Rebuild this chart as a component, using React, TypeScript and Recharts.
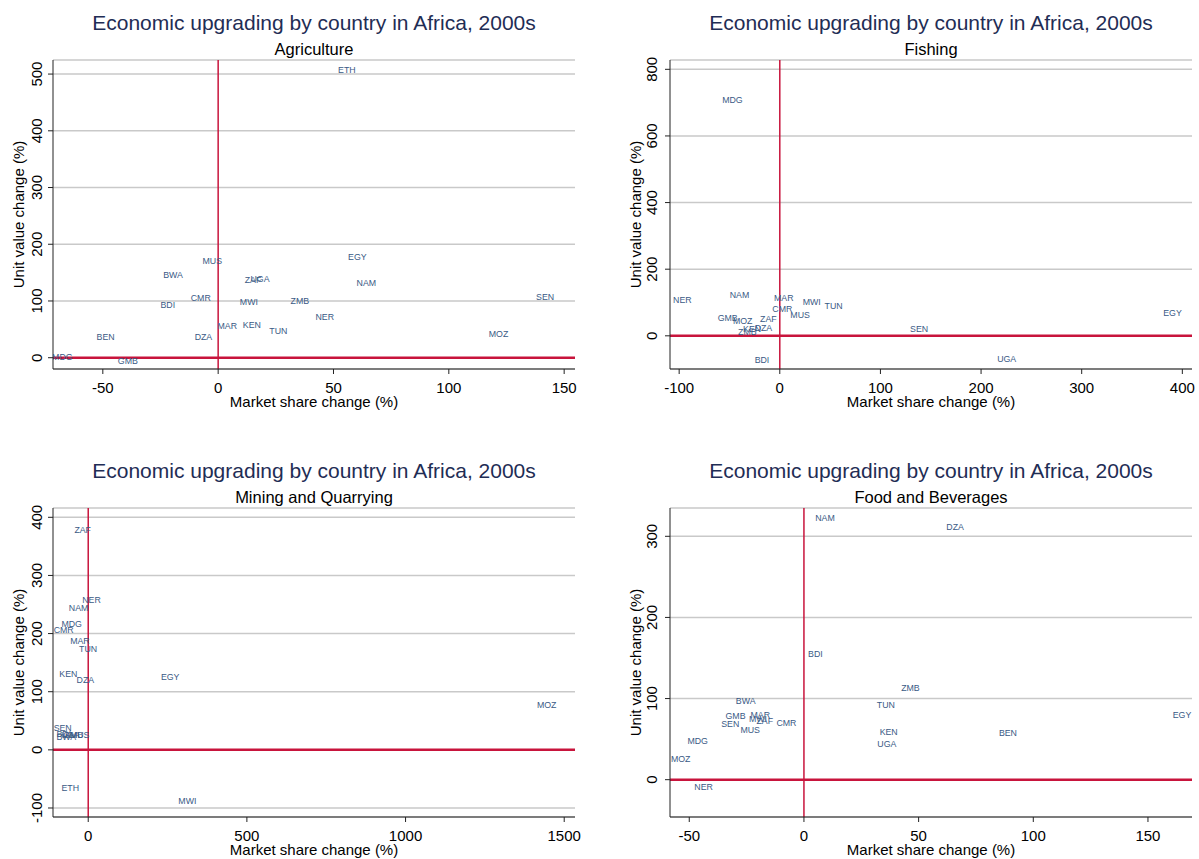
import React from 'react';
import { ScatterChart, Scatter, XAxis, YAxis, CartesianGrid, ReferenceLine } from 'recharts';

const FONT = '"Liberation Sans", Arial, Helvetica, sans-serif';
const MAIN_TITLE = 'Economic upgrading by country in Africa, 2000s';
const X_TITLE = 'Market share change (%)';
const Y_TITLE = 'Unit value change (%)';

// Agriculture
const agriCountries = ['ETH', 'MUS', 'EGY', 'BWA', 'ZAF', 'UGA', 'NAM', 'CMR', 'BDI', 'MWI', 'ZMB', 'SEN', 'NER', 'MAR', 'KEN', 'TUN', 'MOZ', 'BEN', 'DZA', 'MDG', 'GMB'];
const agriShare = [52, -6.8, 56.3, -23.8, 11.5, 14, 60, -11.9, -25, 9.4, 31.4, 137.8, 42.2, -0.3, 10.7, 22.2, 117.3, -52.7, -10.2, -72, -43.5];
const agriUnit = [508, 171, 178, 145, 137, 139, 131, 105.5, 93, 99, 100.5, 107.5, 72.3, 56, 58, 47.6, 42.4, 37, 37, 1.8, -5.6];
const agriXTicks = [-50, 0, 50, 100, 150];
const agriYTicks = [0, 100, 200, 300, 400, 500];

// Fishing
const fishCountries = ['MDG', 'NER', 'NAM', 'MAR', 'MWI', 'TUN', 'CMR', 'MUS', 'EGY', 'GMB', 'MOZ', 'ZAF', 'KEN', 'DZA', 'ZMB', 'SEN', 'BDI', 'UGA'];
const fishShare = [-57.3, -106, -49.7, -5.7, 22.8, 44.5, -7.4, 10.5, 381, -61.7, -46.6, -19.6, -36.5, -25, -41.5, 129.4, -25, 216];
const fishUnit = [708, 107, 123, 113, 101, 90, 81, 63, 69, 54, 44, 51, 21, 24, 10, 21, -74, -69];
const fishXTicks = [-100, 0, 100, 200, 300, 400];
const fishYTicks = [0, 200, 400, 600, 800];

// Mining and Quarrying
const mineCountries = ['ZAF', 'NER', 'NAM', 'MDG', 'CMR', 'MAR', 'TUN', 'KEN', 'DZA', 'EGY', 'MOZ', 'SEN', 'BDI', 'UGA', 'GMB', 'MUS', 'BWA', 'ETH', 'MWI'];
const mineShare = [-43.6, -19, -61, -84.5, -109, -57, -28.7, -91, -36.6, 229, 1414, -109, -100, -86, -79, -58, -100, -84.5, 284];
const mineUnit = [377.5, 257.5, 244, 216.8, 205.8, 187.5, 173.5, 131, 120.6, 125.3, 77.5, 37, 26.5, 26, 26, 25.5, 22.8, -65, -87.5];
const mineXTicks = [0, 500, 1000, 1500];
const mineYTicks = [-100, 0, 100, 200, 300, 400];

// Food and Beverages
const foodCountries = ['NAM', 'DZA', 'BDI', 'ZMB', 'BWA', 'TUN', 'EGY', 'GMB', 'MAR', 'MWI', 'ZAF', 'CMR', 'SEN', 'MUS', 'KEN', 'BEN', 'UGA', 'MDG', 'MOZ', 'NER'];
const foodShare = [4.9, 62.1, 1.8, 42.4, -29.7, 31.8, 160.8, -34.2, -23.3, -24, -20.7, -12, -36.1, -27.7, 33, 85, 32, -50.8, -58, -47.8];
const foodUnit = [323, 312, 155.4, 113.4, 97, 92, 80, 78.7, 79.9, 74.5, 71.8, 70, 68.8, 61.3, 59, 58, 44.4, 47.6, 25.6, -9];
const foodXTicks = [-50, 0, 50, 100, 150];
const foodYTicks = [0, 100, 200, 300];

const toPoints = (names: string[], xs: number[], ys: number[]) =>
  names.map((name, i) => ({ name, share: xs[i], unit: ys[i] }));

// marker label only (no symbol), placed at 3 o'clock like the original
const CountryLabel = (props: any) => {
  const { cx, cy, payload } = props;
  if (cx == null || cy == null) return null;
  return (
    <text x={cx} y={cy} dominantBaseline="central" fontSize={8.8} fill="#3a5a85" fontFamily={FONT}>
      {payload.name}
    </text>
  );
};

const makeYTick = (gap: number) => (props: any) => {
  const { x, y, payload } = props;
  const tx = x - gap;
  return (
    <text
      x={tx}
      y={y}
      transform={`rotate(-90, ${tx}, ${y})`}
      textAnchor="middle"
      dominantBaseline="central"
      fontSize={15}
      fill="#000"
      fontFamily={FONT}
    >
      {payload.value}
    </text>
  );
};

type PanelProps = {
  left: number;
  top: number;
  subtitle: string;
  points: { name: string; share: number; unit: number }[];
  xDomain: [number, number];
  xTicks: number[];
  yDomain: [number, number];
  yTicks: number[];
  plotLeft: number;
  plotRight: number;
  plotTop: number;
  plotBottom: number;
  marginLeft: number;
  titleShift: number;
  yTickGap: number;
};

const W = 600;
const H = 430;
const X_AXIS_H = 40;

const Panel: React.FC<PanelProps> = (p) => {
  const plotWidth = p.plotRight - p.plotLeft;
  return (
    <div style={{ position: 'absolute', left: p.left, top: p.top, width: W, height: H }}>
      <div
        style={{
          position: 'absolute',
          left: p.plotLeft - 40,
          width: plotWidth + 80,
          top: 12 + p.titleShift,
          textAlign: 'center',
          fontSize: 21,
          lineHeight: '21px',
          color: '#1f2d55',
          whiteSpace: 'nowrap',
        }}
      >
        {MAIN_TITLE}
      </div>
      <div
        style={{
          position: 'absolute',
          left: p.plotLeft,
          width: plotWidth,
          top: 40.5 + p.titleShift,
          textAlign: 'center',
          fontSize: 16.5,
          lineHeight: '16px',
          color: '#000',
          whiteSpace: 'nowrap',
        }}
      >
        {p.subtitle}
      </div>
      <ScatterChart
        width={W}
        height={H}
        margin={{ top: p.plotTop, right: W - p.plotRight, left: p.marginLeft, bottom: H - p.plotBottom - X_AXIS_H }}
      >
        <CartesianGrid vertical={false} stroke="#c9c9c9" strokeWidth={1.5} />
        <XAxis
          type="number"
          dataKey="share"
          domain={p.xDomain}
          ticks={p.xTicks}
          allowDataOverflow
          height={X_AXIS_H}
          stroke="#222"
          tickSize={5}
          tickMargin={8}
          tick={{ fill: '#000', fontSize: 15, fontFamily: FONT }}
          label={{ value: X_TITLE, position: 'insideBottom', offset: 2, fill: '#000', fontSize: 15, fontFamily: FONT }}
        />
        <YAxis
          type="number"
          dataKey="unit"
          domain={p.yDomain}
          ticks={p.yTicks}
          allowDataOverflow
          width={p.plotLeft - p.marginLeft}
          stroke="#222"
          tickSize={5}
          tickMargin={3}
          tick={makeYTick(p.yTickGap)}
          label={{
            value: Y_TITLE,
            angle: -90,
            position: 'insideLeft',
            offset: 19,
            fill: '#000',
            fontSize: 15,
            fontFamily: FONT,
            style: { textAnchor: 'middle' },
          }}
        />
        <ReferenceLine x={0} stroke="#c8143c" strokeWidth={1.5} />
        <ReferenceLine y={0} stroke="#c8143c" strokeWidth={2.5} />
        <Scatter data={p.points} shape={CountryLabel} isAnimationActive={false} />
      </ScatterChart>
    </div>
  );
};

const App: React.FC = () => {
  return (
    <div
      style={{
        position: 'absolute',
        left: 0,
        top: 0,
        width: 1199,
        height: 859,
        background: '#fff',
        fontFamily: FONT,
      }}
    >
      <Panel
        left={0}
        top={0}
        subtitle="Agriculture"
        points={toPoints(agriCountries, agriShare, agriUnit)}
        xDomain={[-71.6, 154.7]}
        xTicks={agriXTicks}
        yDomain={[-19.9, 524.8]}
        yTicks={agriYTicks}
        plotLeft={53}
        plotRight={575}
        plotTop={60}
        plotBottom={369}
        marginLeft={0}
        titleShift={0}
        yTickGap={8}
      />
      <Panel
        left={600}
        top={0}
        subtitle="Fishing"
        points={toPoints(fishCountries, fishShare, fishUnit)}
        xDomain={[-109.1, 409.6]}
        xTicks={fishXTicks}
        yDomain={[-99.6, 828]}
        yTicks={fishYTicks}
        plotLeft={70}
        plotRight={592}
        plotTop={60}
        plotBottom={369}
        marginLeft={17}
        titleShift={0}
        yTickGap={10}
      />
      <Panel
        left={0}
        top={430}
        subtitle="Mining and Quarrying"
        points={toPoints(mineCountries, mineShare, mineUnit)}
        xDomain={[-111, 1534]}
        xTicks={mineXTicks}
        yDomain={[-115.5, 416]}
        yTicks={mineYTicks}
        plotLeft={53}
        plotRight={575}
        plotTop={78}
        plotBottom={387}
        marginLeft={0}
        titleShift={18}
        yTickGap={8}
      />
      <Panel
        left={600}
        top={430}
        subtitle="Food and Beverages"
        points={toPoints(foodCountries, foodShare, foodUnit)}
        xDomain={[-58.4, 169.2]}
        xTicks={foodXTicks}
        yDomain={[-46, 334.9]}
        yTicks={foodYTicks}
        plotLeft={70}
        plotRight={592}
        plotTop={78}
        plotBottom={387}
        marginLeft={17}
        titleShift={18}
        yTickGap={10}
      />
    </div>
  );
};

export default App;
